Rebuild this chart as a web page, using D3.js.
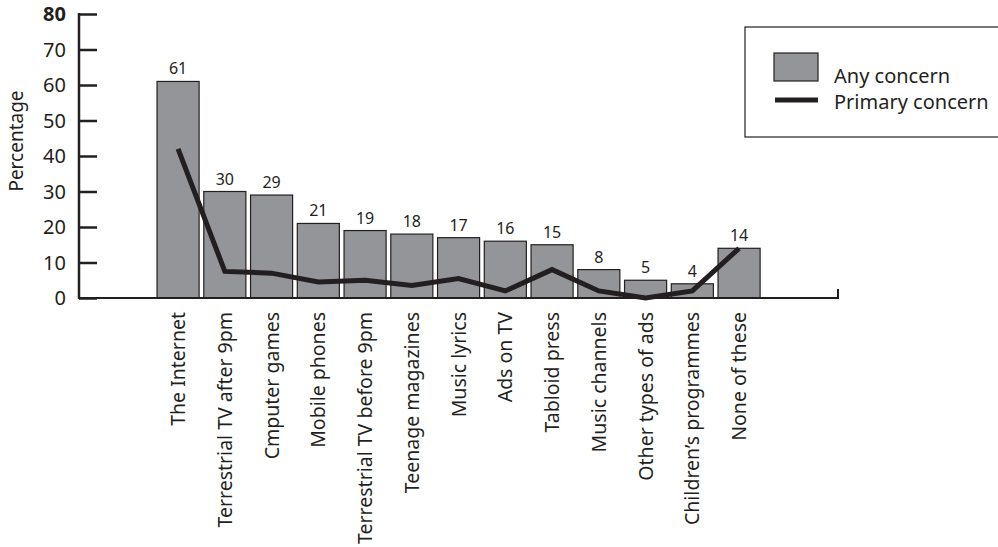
<!DOCTYPE html>
<html>
<head>
<meta charset="utf-8">
<script src="https://cdn.jsdelivr.net/npm/d3@7"></script>
<style>
  body { margin: 0; background: #fff; }
  text { font-family: "Noto Sans", "Open Sans", sans-serif; fill: #231f20; }
</style>
</head>
<body>
<div id="chart"></div>
<script>
// data
const categories = ['The Internet', 'Terrestrial TV after 9pm', 'Cmputer games', 'Mobile phones',
  'Terrestrial TV before 9pm', 'Teenage magazines', 'Music lyrics', 'Ads on TV', 'Tabloid press',
  'Music channels', 'Other types of ads', 'Children\u2019s programmes', 'None of these'];
const anyConcern = [61, 30, 29, 21, 19, 18, 17, 16, 15, 8, 5, 4, 14];
const primaryConcern = [42, 7.5, 7, 4.5, 5, 3.5, 5.5, 2, 8, 2, 0, 2, 14];
const yTicks = [0, 10, 20, 30, 40, 50, 60, 70, 80];
const legendItems = ['Any concern', 'Primary concern'];

const svgwidth = 998;
const svgheight = 547;
const ink = '#231f20';

const svg = d3.select('#chart').append('svg')
  .attr('width', svgwidth)
  .attr('height', svgheight);

const axisLeftX = 79;
const axisRightX = 838;
const y = d3.scaleLinear().domain([0, 80]).range([298, 14]);
const x = d3.scaleBand()
  .domain(categories)
  .range([154.7, 154.7 + 13 * 46.75])
  .paddingInner(0.1)
  .paddingOuter(0.05);

// bars
svg.append('g').selectAll('rect')
  .data(anyConcern)
  .enter()
  .append('rect')
  .attr('x', (d, i) => x(categories[i]))
  .attr('y', d => y(d))
  .attr('width', x.bandwidth())
  .attr('height', d => y(0) - y(d))
  .attr('fill', '#939598')
  .attr('stroke', ink)
  .attr('stroke-width', 1.2);

// value labels
svg.append('g').selectAll('text')
  .data(anyConcern)
  .enter()
  .append('text')
  .attr('x', (d, i) => x(categories[i]) + x.bandwidth() / 2)
  .attr('y', d => y(d) - 7)
  .attr('text-anchor', 'middle')
  .attr('font-size', '16px')
  .text(d => d);

// primary concern line
const line = d3.line()
  .x((d, i) => x(categories[i]) + x.bandwidth() / 2)
  .y(d => y(d));
svg.append('path')
  .attr('d', line(primaryConcern))
  .attr('fill', 'none')
  .attr('stroke', ink)
  .attr('stroke-width', 5)
  .attr('stroke-linejoin', 'miter');

// y axis
const yAxis = svg.append('g')
  .attr('transform', `translate(${axisLeftX},0)`)
  .call(d3.axisRight(y).tickValues(yTicks).tickSize(18).tickFormat(''));
yAxis.select('.domain').remove();
yAxis.selectAll('.tick line').attr('stroke', ink).attr('stroke-width', 2.5);
svg.append('line')
  .attr('x1', axisLeftX).attr('x2', axisLeftX)
  .attr('y1', y(80) - 1).attr('y2', y(0) + 1)
  .attr('stroke', ink).attr('stroke-width', 2.5);
svg.append('g').selectAll('text')
  .data(yTicks)
  .enter()
  .append('text')
  .attr('x', 66)
  .attr('y', d => y(d) + 7)
  .attr('text-anchor', 'end')
  .attr('font-size', '20px')
  .attr('font-weight', d => (d === 80 ? 'bold' : 'normal'))
  .text(d => d);
svg.append('text')
  .attr('transform', `translate(23,141) rotate(-90)`)
  .attr('text-anchor', 'middle')
  .attr('font-size', '19px')
  .text('Percentage');

// x axis
svg.append('line')
  .attr('x1', axisLeftX).attr('x2', axisRightX)
  .attr('y1', y(0)).attr('y2', y(0))
  .attr('stroke', ink).attr('stroke-width', 2);
svg.append('line')
  .attr('x1', axisRightX).attr('x2', axisRightX)
  .attr('y1', y(0) - 9).attr('y2', y(0) + 1)
  .attr('stroke', ink).attr('stroke-width', 2);
svg.append('g').selectAll('text')
  .data(categories)
  .enter()
  .append('text')
  .attr('transform', d => `translate(${x(d) + x.bandwidth() / 2 + 7},312) rotate(-90)`)
  .attr('text-anchor', 'end')
  .attr('font-size', '19.5px')
  .text(d => d);

// legend
const legend = svg.append('g');
legend.append('rect')
  .attr('x', 745).attr('y', 27)
  .attr('width', 260).attr('height', 110)
  .attr('fill', '#fff')
  .attr('stroke', ink).attr('stroke-width', 1.2);
legend.append('rect')
  .attr('x', 774).attr('y', 53)
  .attr('width', 44).attr('height', 28)
  .attr('fill', '#939598')
  .attr('stroke', ink).attr('stroke-width', 1.2);
legend.append('line')
  .attr('x1', 775).attr('x2', 818)
  .attr('y1', 100).attr('y2', 100)
  .attr('stroke', ink).attr('stroke-width', 5);
legend.selectAll('.lt')
  .data(legendItems)
  .enter()
  .append('text')
  .attr('class', 'lt')
  .attr('x', 834)
  .attr('y', (d, i) => 83 + i * 26)
  .attr('font-size', '20px')
  .text(d => d);
</script>
</body>
</html>
